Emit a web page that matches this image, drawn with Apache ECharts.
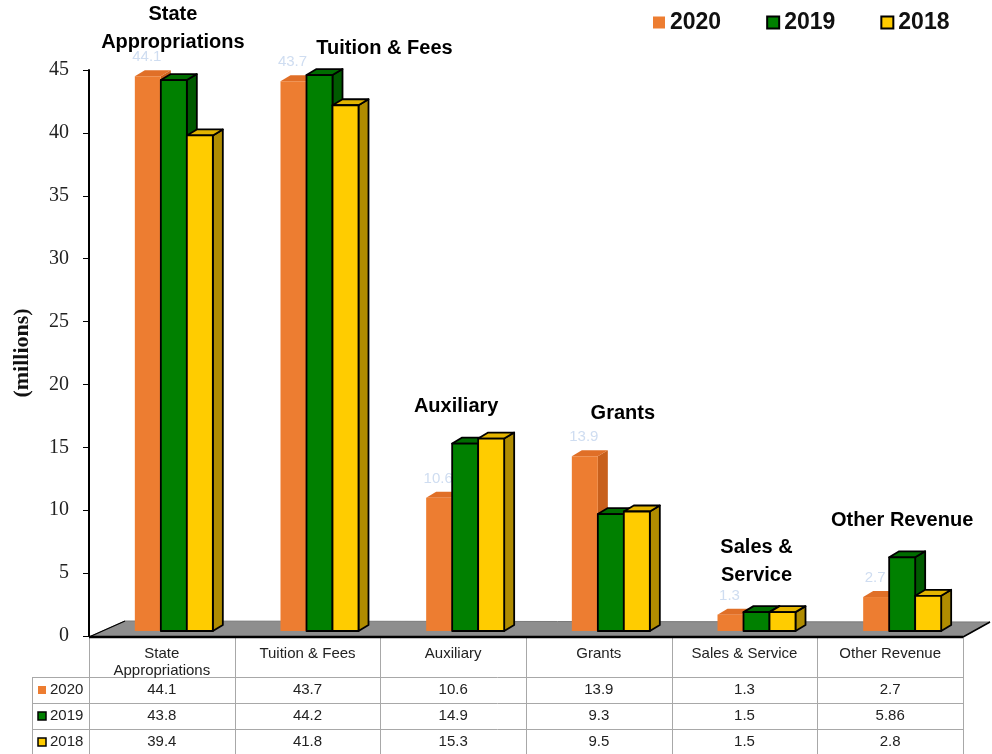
<!DOCTYPE html>
<html><head><meta charset="utf-8">
<script src="https://cdn.jsdelivr.net/npm/echarts@6/dist/echarts.min.js"></script>
<style>html,body{margin:0;padding:0;background:#fff}#c{width:992px;height:754px}</style>
</head><body><div id="c"></div>
<script>
// ---- data ----
const categories = ['State Appropriations','Tuition & Fees','Auxiliary','Grants','Sales & Service','Other Revenue'];
const headerLabels = ['State\nAppropriations','Tuition & Fees','Auxiliary','Grants','Sales & Service','Other Revenue'];
const titleLabels = ['State\nAppropriations','Tuition & Fees','Auxiliary','Grants','Sales &\nService','Other Revenue'];
const years = ['2020','2019','2018'];
const values2020 = [44.1, 43.7, 10.6, 13.9, 1.3, 2.7];
const values2019 = [43.8, 44.2, 14.9, 9.3, 1.5, 5.86];
const values2018 = [39.4, 41.8, 15.3, 9.5, 1.5, 2.8];
const tableText2019 = ['43.8','44.2','14.9','9.3','1.5','5.86'];
const yMin = 0, yMax = 45, yStep = 5;

// ---- layout / style (not data) ----
const seriesValues = [values2020, values2019, values2018];
const styles = [
  {front:'#ED7D31', side:'#C8601C', top:'#E06F27', stroke:null},
  {front:'#008000', side:'#005A00', top:'#006C00', stroke:'#000'},
  {front:'#FFCC00', side:'#B08C00', top:'#E3B400', stroke:'#000'}
];
const titleOffsets = [[11,-48],[77,-27],[3,-32],[24,-43],[12,-51],[12,-37]];
const BW = 26, OFF = -27, DX = 10, DY = 6, SHIFT = 5;
const SANS = '"Liberation Sans", Arial, sans-serif';
const SERIF = '"Liberation Serif", "Times New Roman", serif';

function barRender(si){
  return function(params, api){
    const c = api.value(0), v = api.value(1);
    const p0 = api.coord([c, 0]);
    const p1 = api.coord([c, v]);
    const left = p0[0] + OFF + si*BW;
    const bottom = p0[1] - SHIFT, top = p1[1] - SHIFT;
    const st = styles[si];
    const common = st.stroke ? {stroke: st.stroke, lineWidth: 1.8, lineJoin:'round'} : {stroke: null};
    const children = [
      {type:'polygon', shape:{points:[[left+BW,top],[left+BW+DX,top-DY],[left+BW+DX,bottom-DY],[left+BW,bottom]]},
        style:Object.assign({fill:st.side}, common)},
      {type:'polygon', shape:{points:[[left,top],[left+DX,top-DY],[left+BW+DX,top-DY],[left+BW,top]]},
        style:Object.assign({fill:st.top}, common)},
      {type:'rect', shape:{x:left, y:top, width:BW, height:bottom-top},
        style:Object.assign({fill:st.front}, common)}
    ];
    if (si === 0) {
      children.push({type:'text', style:{text:String(v), x:left+BW/2-1, y:top-19, align:'center', verticalAlign:'middle',
        fill:'#CFDDF1', font:'15px ' + SANS}});
    }
    return {type:'group', children: children};
  };
}

function floorRender(params, api){
  const cs = params.coordSys;
  const x0 = cs.x, x1 = cs.x + cs.width, yb = cs.y + cs.height;
  return {type:'group', children:[
    {type:'polygon', shape:{points:[[x0,yb+1],[x1,yb+1],[x1+27,yb-14],[x0+36,yb-15]]}, style:{fill:'#8E8E8E', stroke:'#7A7A7A', lineWidth:1}},
    {type:'line', shape:{x1:x0, y1:yb+1, x2:x0+36, y2:yb-15}, style:{stroke:'#000', lineWidth:1.2}},
    {type:'line', shape:{x1:x1, y1:yb+1, x2:x1+27, y2:yb-14}, style:{stroke:'#000', lineWidth:1.5}},
    {type:'line', shape:{x1:x0, y1:yb+1, x2:x1, y2:yb+1}, style:{stroke:'#000', lineWidth:2.5}}
  ]};
}

function titleRender(params, api){
  const i = api.value(0), m = api.value(1);
  const p = api.coord([i, m]);
  const o = titleOffsets[i];
  return {type:'text', style:{text:titleLabels[i], x:p[0]+o[0], y:p[1]-SHIFT+o[1], align:'center', verticalAlign:'middle',
    fill:'#000', font:'bold 20px ' + SANS, lineHeight:28}};
}

const chart = echarts.init(document.getElementById('c'), null, {renderer:'canvas'});
const barSeries = years.map((y, si) => ({
  name: y, type:'custom', coordinateSystem:'cartesian2d', z:2,
  itemStyle:{color: styles[si].front},
  renderItem: barRender(si),
  encode:{x:0, y:1},
  data: seriesValues[si].map((v, i) => [i, v])
}));

const legendItemStyles = [
  {color:'#ED7D31', borderWidth:0},
  {color:'#008000', borderColor:'#000', borderWidth:2},
  {color:'#FFCC00', borderColor:'#000', borderWidth:2}
];

chart.setOption({
  animation:false,
  backgroundColor:'#fff',
  grid:{left:89, right:29, top:70, bottom:118, containLabel:false, outerBoundsMode:'none'},
  legend:{
    left:653, top:11, icon:'rect', itemWidth:12, itemHeight:12, itemGap:45, padding:0,
    textStyle:{fontFamily:SANS, fontWeight:'bold', fontSize:23, color:'#111'},
    data: years.map((y, i) => ({name:y, itemStyle:legendItemStyles[i]}))
  },
  xAxis:{type:'category', data:categories, boundaryGap:true,
    axisLine:{show:false}, axisTick:{show:false}, axisLabel:{show:false}, splitLine:{show:false}},
  yAxis:{type:'value', min:yMin, max:yMax, interval:yStep,
    name:'(millions)', nameLocation:'middle', nameGap:56, nameRotate:90,
    nameTextStyle:{fontFamily:SERIF, fontWeight:'bold', fontSize:22, color:'#111'},
    axisLine:{show:true, lineStyle:{color:'#000', width:2}},
    axisTick:{show:true, inside:false, length:6, lineStyle:{color:'#000', width:1}},
    axisLabel:{margin:20, fontFamily:SERIF, fontSize:20, color:'#222'},
    splitLine:{show:false}},
  series:[
    {name:'floor', type:'custom', coordinateSystem:'cartesian2d', z:1, silent:true, renderItem:floorRender,
      encode:{x:0, y:1}, data:[[0,0]]}
  ].concat(barSeries).concat([
    {name:'titles', type:'custom', coordinateSystem:'cartesian2d', z:3, silent:true, renderItem:titleRender,
      encode:{x:0, y:1},
      data: categories.map((c, i) => [i, Math.max(values2020[i], values2019[i], values2018[i])])}
  ])
});

// ---- data table under the axis ----
function buildTable(){
  const band = chart.convertToPixel({xAxisIndex:0}, 1) - chart.convertToPixel({xAxisIndex:0}, 0);
  const cx = categories.map((c, i) => chart.convertToPixel({xAxisIndex:0}, i));
  const y0 = chart.convertToPixel({yAxisIndex:0}, 0);
  const leftEdge = cx[0] - band/2, rightEdge = cx[cx.length-1] + band/2;
  const headTop = y0 + 1, headBottom = y0 + 41, rowH = 26, labelLeft = 32;
  const g = [];
  const grey = '#A8A8A8';
  for (let k = 0; k <= categories.length; k++) {
    const x = Math.round(leftEdge + k*band) + 0.5;
    g.push({type:'line', shape:{x1:x, y1:headTop, x2:x, y2:754}, style:{stroke:grey, lineWidth:1}});
  }
  g.push({type:'line', shape:{x1:labelLeft+0.5, y1:headBottom, x2:labelLeft+0.5, y2:754}, style:{stroke:grey, lineWidth:1}});
  for (let r = 0; r < 3; r++) {
    const y = Math.round(headBottom + r*rowH) + 0.5;
    g.push({type:'line', shape:{x1:labelLeft, y1:y, x2:rightEdge, y2:y}, style:{stroke:grey, lineWidth:1}});
  }
  headerLabels.forEach((h, i) => {
    g.push({type:'text', style:{text:h, x:cx[i], y:headTop+8, align:'center', verticalAlign:'top',
      font:'15px ' + SANS, fill:'#222', lineHeight:17}});
  });
  const rowTexts = [values2020.map(String), tableText2019, values2018.map(String)];
  years.forEach((y, r) => {
    const yc = headBottom + r*rowH + rowH/2;
    const st = legendItemStyles[r];
    g.push({type:'rect', shape:{x:38, y:yc-4, width:8, height:8},
      style:{fill:st.color, stroke: st.borderWidth ? '#000' : null, lineWidth: st.borderWidth ? 1.5 : 0}});
    g.push({type:'text', style:{text:y, x:50, y:yc, align:'left', verticalAlign:'middle', font:'15px ' + SANS, fill:'#222'}});
    rowTexts[r].forEach((t, i) => {
      g.push({type:'text', style:{text:t, x:cx[i], y:yc, align:'center', verticalAlign:'middle', font:'15px ' + SANS, fill:'#222'}});
    });
  });
  chart.setOption({graphic:[{type:'group', silent:true, children:g}]});
}
buildTable();
</script>
</body></html>
